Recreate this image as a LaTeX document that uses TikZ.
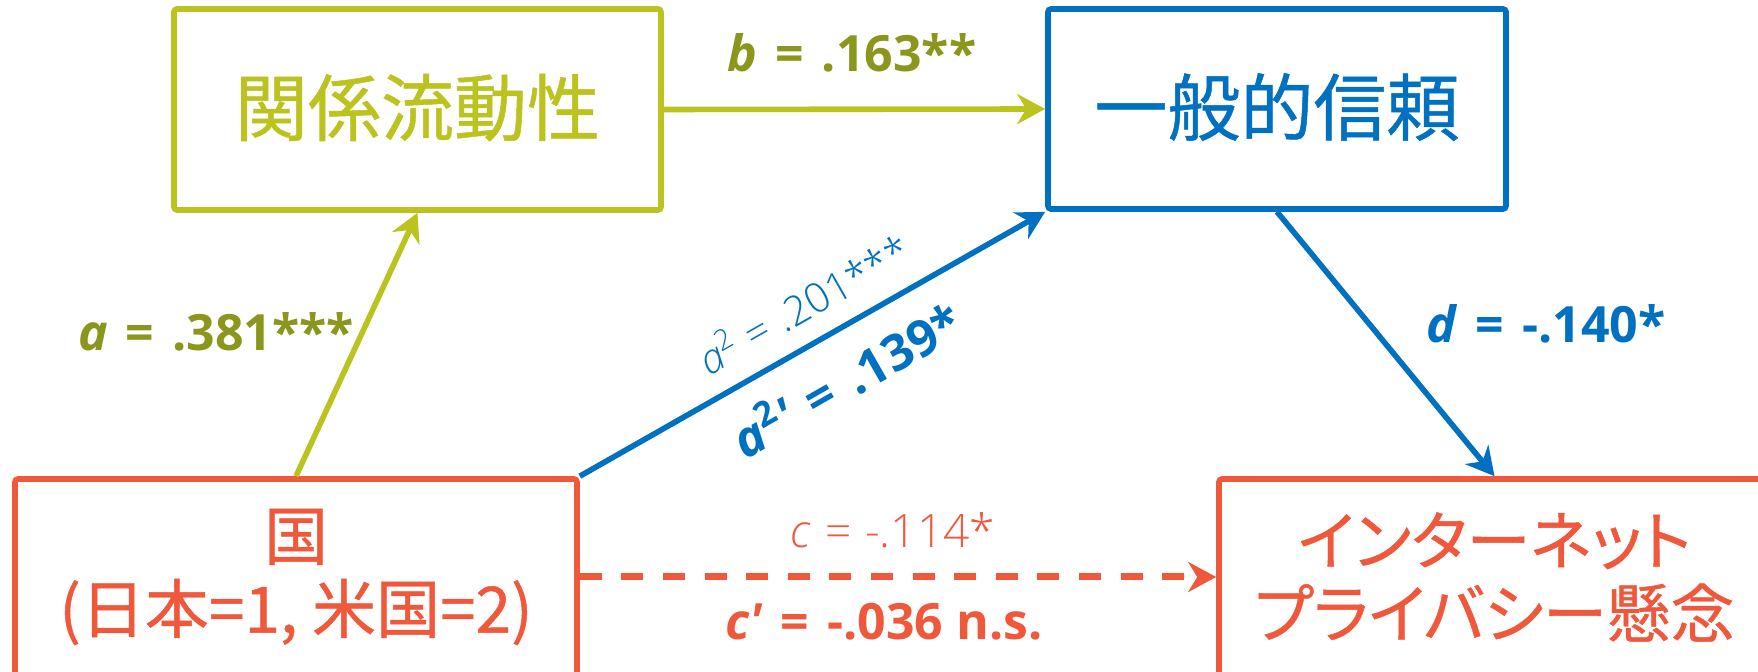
\documentclass[tikz,border=0pt]{standalone}
\usepackage{fontspec}
\setmainfont{Open Sans}
\newfontfamily\jp{Noto Sans CJK JP}[RawFeature=+palt, FakeBold=0.7]
\newfontfamily\lt{Open Sans}[UprightFont={* Light}, ItalicFont={* Light Italic}, BoldFont={* Light}]
\usetikzlibrary{arrows.meta}
\definecolor{grn}{RGB}{187,196,30}
\definecolor{olv}{RGB}{138,150,28}
\definecolor{blu}{RGB}{0,112,192}
\definecolor{org}{RGB}{240,88,60}
\newcommand\eqsp{\hspace{0.36em}=\hspace{0.36em}}
\newcommand\eqlt{\hspace{0.3em}=\hspace{0.3em}}
\begin{document}
\begin{tikzpicture}[x=0.5pt,y=-0.5pt,
  box/.style={draw, line width=2.8pt, rounded corners=1.5pt, inner sep=0pt, align=center},
  bigjp/.style={font=\jp\fontsize{36.5}{43}\selectfont},
  smjp/.style={font=\jp\fontsize{32}{36.5}\selectfont},
  arr/.style={line width=2.8pt, -{Stealth[length=14pt,width=15pt,inset=4.5pt]}},
  lbl/.style={font=\fontsize{25}{30}\selectfont\bfseries, inner sep=0pt},
  lightlbl/.style={font=\lt\fontsize{23}{28}\selectfont, inner sep=0pt}
]
\useasboundingbox (0,0) rectangle (1758,672);
\clip (0,0) rectangle (1758,672);

% boxes
\node[box, bigjp, draw=grn, text=grn, minimum width=243.5pt, minimum height=100.5pt] (rm) at (417.5,109.5) {\raisebox{5pt}{関係流動性}};
\node[box, bigjp, draw=blu, text=blu, minimum width=229pt, minimum height=100pt] (gt) at (1277,109) {\raisebox{5pt}{一般的信頼}};
\node[box, smjp, draw=org, text=org, minimum width=281pt, minimum height=98pt] (cn) at (296,577) {国\\(日本=1, 米国=2)};
\node[box, smjp, draw=org, text=org, minimum width=275.5pt, minimum height=98pt] (ip) at (1494.5,577) {インターネット\\プライバシー懸念};

% connectors
\draw[arr, grn] (cn.north) -- (rm.south);
\draw[arr, grn] (rm.east) -- (gt.west);
\draw[arr, blu] (cn.north east) -- (gt.south west);
\draw[arr, blu] (gt.south) -- (ip.north);
\draw[org, line width=3.5pt, dash pattern=on 11pt off 9.8pt, -{Stealth[length=14pt,width=15pt,inset=4.5pt]}] (cn.east) -- (ip.west);

% labels
\node[lbl, text=olv] (lb) at (852,53) {\textit{b}\eqsp.163**};
\node[lbl, text=olv] (la) at (216,332) {\textit{a}\eqsp.381***};
\node[lbl, text=blu] (ld) at (1546,324) {\textit{d}\eqsp-.140*};
\node[lightlbl, text=blu, rotate=29.8, font=\lt\fontsize{20.5}{25}\selectfont] (la2) at (803,303) {\textit{a}\textsuperscript{2}\eqlt.201***};
\node[lbl, text=blu, rotate=29.8] (la2p) at (846,378) {\textit{a}\textsuperscript{2}\textit{\textquotesingle}\eqsp.139*};
\node[lightlbl, text=org] (lc) at (893,530) {\textit{c}\eqlt-.114*};
\node[lbl, text=org] (lcp) at (884,622) {\textit{c\textquotesingle}\eqsp-.036 n.s.};
\end{tikzpicture}
\end{document}
